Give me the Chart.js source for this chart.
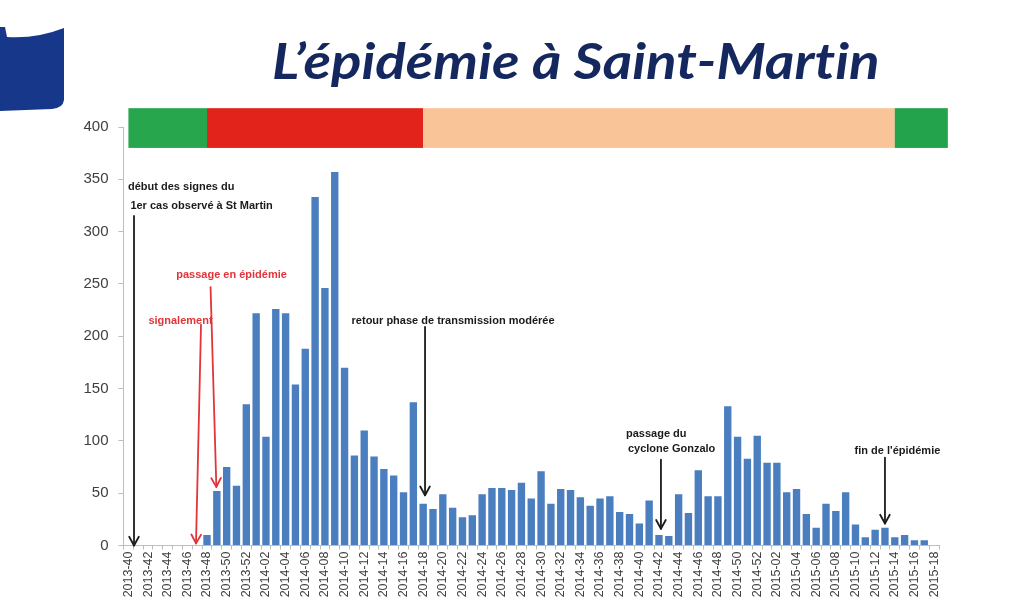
<!DOCTYPE html>
<html lang="fr">
<head>
<meta charset="utf-8">
<title>L'épidémie à Saint-Martin</title>
<script src="https://cdn.jsdelivr.net/npm/chart.js@4.4.1/dist/chart.umd.min.js"></script>
<style>
  html, body { margin: 0; padding: 0; background: #fff; }
  #wrap { position: relative; width: 1024px; height: 616px; overflow: hidden; }
  #logo { position: absolute; left: 0; top: 0; }
  #title {
    position: absolute; left: 272px; top: 30px; white-space: nowrap;
    font: italic 700 50px Lato, "Open Sans", sans-serif; color: #14275e;
    font-variant-ligatures: none;
    transform-origin: 0 0;
  }
  #chart { position: absolute; left: 0; top: 0; }
</style>
</head>
<body>
<div id="wrap">
  <svg id="logo" width="80" height="120">
    <path d="M0 27 L5 27 L7 37 Q36 39 64 28 L64 100 Q63 108 52 109 L0 111 Z" fill="#17388a"/>
  </svg>
  <div id="title">L’épidémie à Saint-Martin</div>
  <canvas id="chart" width="1024" height="616"></canvas>
</div>
<script>
(function () {
  'use strict';

  const weeks = [
    '2013-40', '2013-41', '2013-42', '2013-43', '2013-44', '2013-45', '2013-46', '2013-47', '2013-48', '2013-49',
    '2013-50', '2013-51', '2013-52',
    '2014-01', '2014-02', '2014-03', '2014-04', '2014-05', '2014-06', '2014-07', '2014-08', '2014-09', '2014-10',
    '2014-11', '2014-12', '2014-13', '2014-14', '2014-15', '2014-16', '2014-17', '2014-18', '2014-19', '2014-20',
    '2014-21', '2014-22', '2014-23', '2014-24', '2014-25', '2014-26', '2014-27', '2014-28', '2014-29', '2014-30',
    '2014-31', '2014-32', '2014-33', '2014-34', '2014-35', '2014-36', '2014-37', '2014-38', '2014-39', '2014-40',
    '2014-41', '2014-42', '2014-43', '2014-44', '2014-45', '2014-46', '2014-47', '2014-48', '2014-49', '2014-50',
    '2014-51', '2014-52',
    '2015-01', '2015-02', '2015-03', '2015-04', '2015-05', '2015-06', '2015-07', '2015-08', '2015-09', '2015-10',
    '2015-11', '2015-12', '2015-13', '2015-14', '2015-15', '2015-16', '2015-17', '2015-18',
  ];

  const cases = [
    0, 0, 0, 0, 0, 0, 0, 0, 10, 52, 75, 57, 135,
    222, 104, 226, 222, 154, 188, 333, 246, 357, 170,
    86, 110, 85, 73, 67, 51, 137, 40, 35, 49,
    36, 27, 29, 49, 55, 55, 53, 60, 45, 71,
    40, 54, 53, 46, 38, 45, 47, 32, 30, 21,
    43, 10, 9, 49, 31, 72, 47, 47, 133, 104,
    83, 105, 79, 79, 51, 54, 30, 17, 40, 33,
    51, 20, 8, 15, 17, 8, 10, 5, 5, 0,
  ];

  const yTicks = [0, 50, 100, 150, 200, 250, 300, 350, 400];

  // phase band across the top (edges in week positions, band in case units)
  const phaseEdges = [0, 8, 30, 78, 83.4];
  const phaseColors = ['#28a64e', '#e1231b', '#f9c497', '#23a34c'];
  const phaseBand = [380, 418];

  // annotations: one entry per text line
  const noteTexts = [
    'début des signes du', '1er cas observé à St Martin', 'passage en épidémie', 'signalement',
    'retour phase de transmission modérée', 'passage du', 'cyclone Gonzalo', 'fin de l\'épidémie',
  ];
  const noteX = [-0.04, 0.2, 10.5, 5.3, 33.04, 50.64, 50.84, 78.27];
  const noteY = [342.7, 324.6, 258.6, 215, 214.6, 106.6, 92, 90.6];
  const noteAlign = ['left', 'left', 'center', 'center', 'center', 'left', 'left', 'center'];
  const noteRed = [false, false, true, true, false, false, false, false];

  // arrows: [week position, value] from -> to
  const arrowFrom = [[0.57, 315], [8.36, 247], [7.39, 211], [30.19, 209], [54.2, 82], [77.0, 84]];
  const arrowTo = [[0.57, 0], [8.95, 56], [6.88, 2], [30.19, 48], [54.2, 16], [77.0, 21]];
  const arrowRed = [false, true, true, false, false, false];

  const BLACK = '#1b1b1b';
  const RED = '#e2343a';
  const AXIS = '#bdbdbd';

  const phasePlugin = {
    id: 'phases',
    beforeDatasetsDraw(chart) {
      const { ctx, scales: { x, y } } = chart;
      const top = y.getPixelForValue(phaseBand[1]);
      const bottom = y.getPixelForValue(phaseBand[0]);
      ctx.save();
      for (let i = 0; i < phaseColors.length; i++) {
        const left = x.getPixelForValue(phaseEdges[i]);
        const right = x.getPixelForValue(phaseEdges[i + 1]);
        ctx.fillStyle = phaseColors[i];
        ctx.fillRect(left, top, right - left, bottom - top);
      }
      ctx.restore();
    },
  };

  function drawArrow(ctx, x1, y1, x2, y2, color) {
    const ang = Math.atan2(y2 - y1, x2 - x1);
    const len = 10;
    const spread = 0.5;
    ctx.strokeStyle = color;
    ctx.lineWidth = 1.8;
    ctx.beginPath();
    ctx.moveTo(x1, y1);
    ctx.lineTo(x2, y2);
    ctx.stroke();
    ctx.beginPath();
    ctx.moveTo(x2 - len * Math.cos(ang - spread), y2 - len * Math.sin(ang - spread));
    ctx.lineTo(x2, y2);
    ctx.lineTo(x2 - len * Math.cos(ang + spread), y2 - len * Math.sin(ang + spread));
    ctx.stroke();
  }

  const notesPlugin = {
    id: 'notes',
    afterDatasetsDraw(chart) {
      const { ctx, scales: { x, y } } = chart;
      ctx.save();
      ctx.font = 'bold 11px "Liberation Sans", Arial, sans-serif';
      ctx.textBaseline = 'middle';
      noteTexts.forEach((t, i) => {
        ctx.fillStyle = noteRed[i] ? RED : BLACK;
        ctx.textAlign = noteAlign[i];
        ctx.fillText(t, x.getPixelForValue(noteX[i]), y.getPixelForValue(noteY[i]));
      });
      ctx.lineCap = 'round';
      ctx.lineJoin = 'round';
      arrowFrom.forEach((a, i) => {
        const b = arrowTo[i];
        drawArrow(
          ctx,
          x.getPixelForValue(a[0]), y.getPixelForValue(a[1]),
          x.getPixelForValue(b[0]), y.getPixelForValue(b[1]),
          arrowRed[i] ? RED : BLACK
        );
      });
      ctx.restore();
    },
  };

  new Chart(document.getElementById('chart'), {
    type: 'bar',
    data: {
      labels: weeks,
      datasets: [{
        data: cases,
        backgroundColor: '#4a7ebf',
        barPercentage: 0.75,
        categoryPercentage: 1,
      }],
    },
    options: {
      responsive: false,
      animation: false,
      layout: { padding: { left: 78.5, right: 85, top: 127, bottom: 10.5 } },
      plugins: {
        legend: { display: false },
        title: { display: false },
        tooltip: { enabled: false },
      },
      scales: {
        x: {
          grid: { drawOnChartArea: false, color: AXIS, tickLength: 4, offset: true },
          border: { color: AXIS },
          ticks: {
            autoSkip: false,
            minRotation: 90,
            maxRotation: 90,
            padding: 2,
            color: '#404040',
            font: { family: '"Liberation Sans", Arial, sans-serif', size: 12.5 },
            callback: (v, i) => (i % 2 === 0 ? weeks[i] : ''),
          },
          afterFit: (s) => { s.height = 60; },
        },
        y: {
          min: 0,
          max: 400,
          afterBuildTicks: (s) => { s.ticks = yTicks.map((v) => ({ value: v })); },
          grid: { drawOnChartArea: false, color: AXIS, tickLength: 5 },
          border: { color: AXIS },
          ticks: {
            padding: 10,
            color: '#404040',
            font: { family: '"Liberation Sans", Arial, sans-serif', size: 15 },
          },
          afterFit: (s) => { s.width = 45; },
        },
      },
    },
    plugins: [phasePlugin, notesPlugin],
  });

  // squeeze the heading to the width it has on the slide
  const title = document.getElementById('title');
  title.style.transform = 'scaleX(' + (608 / title.offsetWidth) + ')';
})();
</script>
</body>
</html>
